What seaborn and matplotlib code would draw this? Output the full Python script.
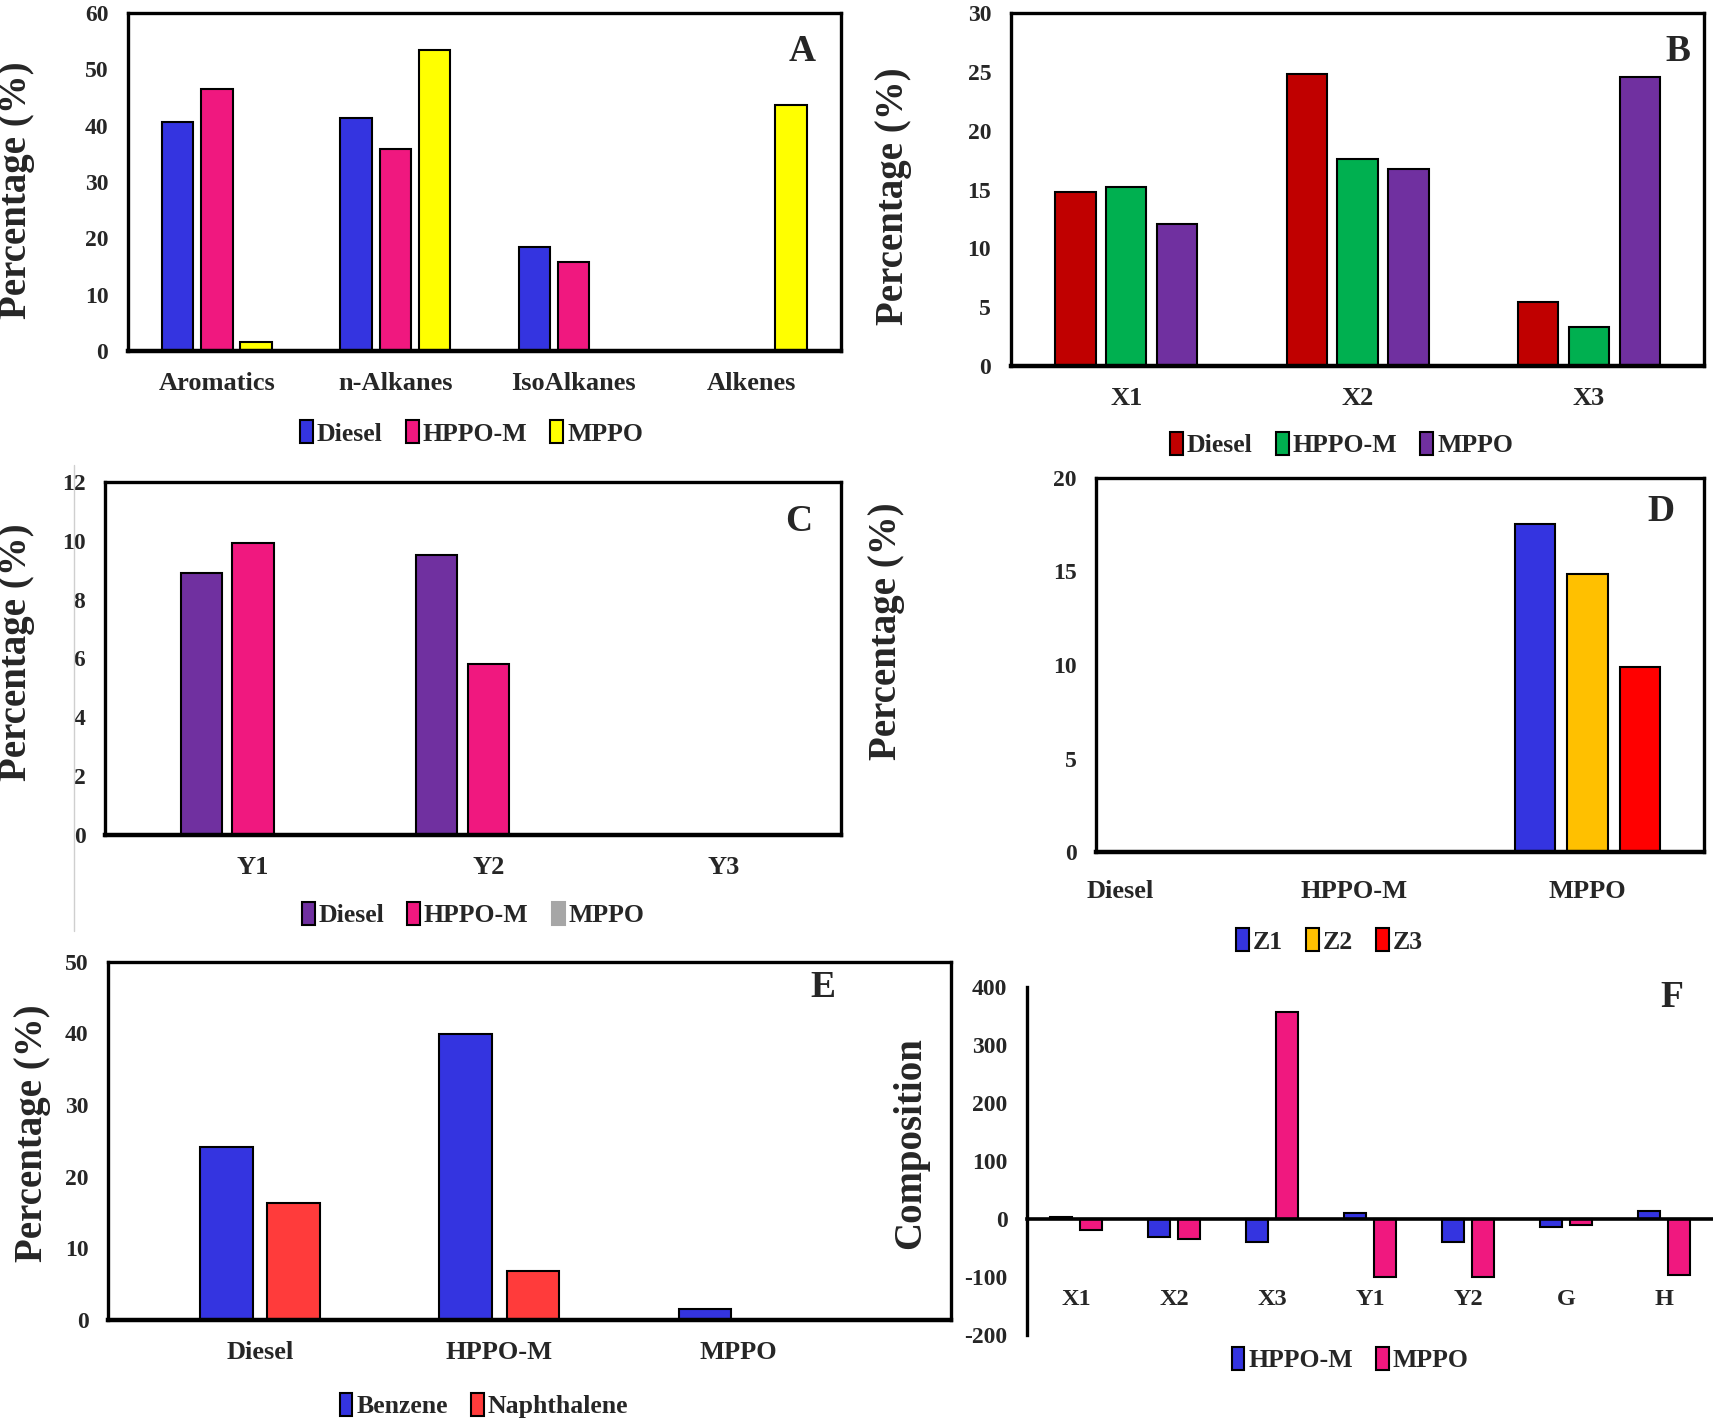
import numpy as np
import pandas as pd
import matplotlib
matplotlib.use("Agg")
import matplotlib.pyplot as plt
import seaborn as sns
from matplotlib.lines import Line2D

# ---------------- data ----------------
a_categories = ["Aromatics", "n-Alkanes", "IsoAlkanes", "Alkenes"]
a_series = ["Diesel", "HPPO-M", "MPPO"]
a_diesel = [40.6, 41.3, 18.5, 0.0]
a_hppo = [46.6, 35.9, 15.8, 0.0]
a_mppo = [1.5, 53.4, 0.0, 43.7]

b_categories = ["X1", "X2", "X3"]
b_series = ["Diesel", "HPPO-M", "MPPO"]
b_diesel = [14.8, 24.8, 5.45]
b_hppo = [15.25, 17.6, 3.3]
b_mppo = [12.1, 16.75, 24.6]

c_categories = ["Y1", "Y2", "Y3"]
c_series = ["Diesel", "HPPO-M", "MPPO"]
c_diesel = [8.92, 9.51, 0.0]
c_hppo = [9.92, 5.82, 0.0]
c_mppo = [0.0, 0.0, 0.0]

d_categories = ["Diesel", "HPPO-M", "MPPO"]
d_series = ["Z1", "Z2", "Z3"]
d_z1 = [0.0, 0.0, 17.5]
d_z2 = [0.0, 0.0, 14.87]
d_z3 = [0.0, 0.0, 9.88]

e_categories = ["Diesel", "HPPO-M", "MPPO"]
e_series = ["Benzene", "Naphthalene"]
e_benzene = [24.2, 39.9, 1.6]
e_naphthalene = [16.3, 6.86, 0.0]

f_categories = ["X1", "X2", "X3", "Y1", "Y2", "G", "H"]
f_series = ["HPPO-M", "MPPO"]
f_hppo = [3, -30, -40, 10, -39, -13, 14]
f_mppo = [-18, -34, 356, -100, -100, -10, -96]

# ---------------- style ----------------
BLUE = "#3434E0"
PINK = "#F0187F"
YELLOW = "#FFFF00"
DRED = "#C00000"
GREEN = "#00B050"
PURPLE = "#7030A0"
ORANGE = "#FFC000"
RED = "#FF0000"
LRED = "#FF3B3B"
GREY = "#A6A6A6"

sns.set_theme(style="white")
plt.rcParams["font.family"] = ["Liberation Serif", "DejaVu Serif"]
plt.rcParams["font.weight"] = "bold"
plt.rcParams["axes.unicode_minus"] = False

fig = plt.figure(figsize=(17.13, 14.25), dpi=100)


def make_df(cats, names, values):
    rows = []
    for name, vals in zip(names, values):
        for c, v in zip(cats, vals):
            rows.append({"cat": c, "series": name, "val": v})
    return pd.DataFrame(rows)


def panel(rect, cats, names, values, colors, ylim, yticks, width, gap,
          letter, letter_pos, ylabel, ylabel_pos, legend_pos, xlim=None,
          xpad=15):
    ax = fig.add_axes(rect)
    df = make_df(cats, names, values)
    sns.barplot(data=df, x="cat", y="val", hue="series", order=cats,
                hue_order=names, palette=colors, width=width, gap=gap,
                edgecolor="black", linewidth=1.5, saturation=1,
                errorbar=None, ax=ax)
    ax.set_ylim(*ylim)
    ax.set_yticks(yticks)
    ax.set_yticklabels([str(t) for t in yticks])
    if xlim is not None:
        ax.set_xlim(*xlim)
    ax.set_xlabel("")
    ax.set_ylabel(ylabel, fontsize=28, fontweight="bold")
    ax.yaxis.set_label_coords(*ylabel_pos)
    ax.tick_params(axis="y", length=0, pad=14, labelsize=17)
    ax.tick_params(axis="x", length=0, pad=xpad, labelsize=19)
    for s in ax.spines.values():
        s.set_color("black")
        s.set_linewidth(2.4)
    ax.spines["bottom"].set_linewidth(3.2)
    ax.grid(False)
    ax.text(letter_pos[0], letter_pos[1], letter, transform=ax.transAxes,
            fontsize=27, fontweight="bold", ha="center", va="center")
    sns.move_legend(ax, "center", bbox_to_anchor=legend_pos,
                    ncol=len(names), frameon=False, title=None,
                    fontsize=18.5, handlelength=0.5, handleheight=1.0,
                    handletextpad=0.15, columnspacing=0.9, borderaxespad=0)
    return ax


# A
axA = panel([0.0746, 0.7538, 0.4164, 0.2370], a_categories, a_series,
            [a_diesel, a_hppo, a_mppo], [BLUE, PINK, YELLOW], (0, 60),
            list(range(0, 61, 10)), 0.66, 0.2, "A", (0.945, 0.885),
            "Percentage (%)", (-0.130, 0.476), (0.482, -0.243))

# B
axB = panel([0.590, 0.7431, 0.405, 0.2477], b_categories, b_series,
            [b_diesel, b_hppo, b_mppo], [DRED, GREEN, PURPLE], (0, 30),
            list(range(0, 31, 5)), 0.66, 0.21, "B", (0.961, 0.892),
            "Percentage (%)", (-0.142, 0.48), (0.477, -0.223))

# C
axC = panel([0.0612, 0.4141, 0.4298, 0.2477], c_categories, c_series,
            [c_diesel, c_hppo, c_mppo], [PURPLE, PINK, GREY], (0, 12),
            list(range(0, 13, 2)), 0.66, 0.2, "C", (0.942, 0.889),
            "Percentage (%)", (-0.095, 0.517), (0.5, -0.226),
            xlim=(-0.63, 2.5))
legC = axC.get_legend()
hC = legC.legend_handles[2]
hC.set_edgecolor(GREY)

# D
axD = panel([0.640, 0.4018, 0.355, 0.2631], d_categories, d_series,
            [d_z1, d_z2, d_z3], [BLUE, ORANGE, RED], (0, 20),
            list(range(0, 21, 5)), 0.67, 0.23, "D", (0.928, 0.91),
            "Percentage (%)", (-0.314, 0.59), (0.384, -0.236),
            xlim=(-0.1, 2.5), xpad=20)

# E
axE = panel([0.063, 0.0736, 0.492, 0.2516], e_categories, e_series,
            [e_benzene, e_naphthalene], [BLUE, LRED], (0, 50),
            list(range(0, 51, 10)), 0.562, 0.22, "E", (0.848, 0.927),
            "Percentage (%)", (-0.067, 0.52), (0.446, -0.238),
            xlim=(-0.635, 2.886))

# F
axF = panel([0.5995, 0.063, 0.4005, 0.2445], f_categories, f_series,
            [f_hppo, f_mppo], [BLUE, PINK], (-200, 400),
            list(range(-200, 401, 100)), 0.6, 0.25, "F", (0.94, 0.968),
            "Composition", (-0.143, 0.552), (0.471, -0.069),
            xlim=(-0.5, 6.5))
axF.spines["top"].set_visible(False)
axF.spines["right"].set_visible(False)
axF.spines["bottom"].set_position(("data", 0))
axF.spines["bottom"].set_linewidth(2.6)
axF.tick_params(axis="x", pad=50, labelsize=17.5)

# faint separator line left of panel C
fig.add_artist(Line2D([0.0434, 0.0434], [0.347, 0.674], color="#cfcfcf",
                      lw=1.0, transform=fig.transFigure))

fig.savefig("out.png", dpi=100)
